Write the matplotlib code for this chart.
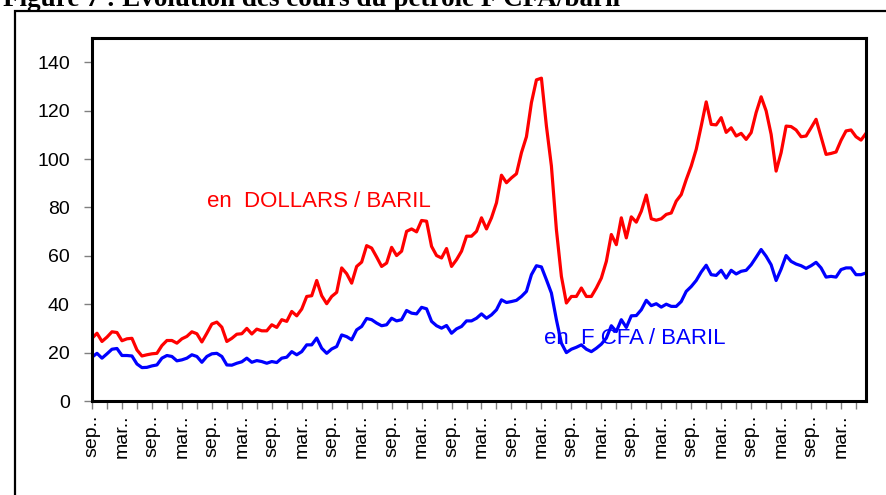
import numpy as np
import matplotlib
matplotlib.use('Agg')
import matplotlib.pyplot as plt
from matplotlib.patches import Rectangle

# monthly oil prices
dollars = [25.9, 28.0, 24.6, 26.4, 28.6, 28.3, 24.9, 25.7, 25.9, 21.1,
           18.6, 19.1, 19.5, 19.7, 22.9, 25.0, 25.0, 23.9, 25.7, 26.7,
           28.6, 27.8, 24.4, 28.0, 31.8, 32.6, 30.5, 24.6, 25.9, 27.6,
           27.8, 30.0, 27.7, 29.7, 29.0, 29.0, 31.5, 30.4, 33.6, 32.9,
           37.0, 35.2, 38.0, 43.2, 43.5, 49.8, 43.5, 40.2, 43.2, 44.9,
           55.0, 52.6, 48.7, 55.6, 57.4, 64.2, 63.2, 59.5, 55.6, 57.0,
           63.5, 60.1, 61.9, 70.1, 71.1, 69.9, 74.6, 74.3, 63.9, 60.1,
           59.1, 63.0, 55.6, 58.4, 61.9, 68.1, 68.1, 70.1, 75.7, 71.1,
           75.7, 81.9, 93.3, 90.2, 92.2, 93.9, 102.6, 109.2, 123.3, 132.7,
           133.4, 113.6, 97.1, 70.8, 51.5, 40.5, 43.2, 43.2, 46.7, 43.2,
           43.2, 46.7, 50.8, 57.7, 68.8, 64.6, 75.7, 67.4, 76.1, 73.9,
           78.4, 85.1, 75.3, 74.7, 75.3, 77.1, 77.7, 82.6, 85.3, 91.5,
           97.1, 104.0, 113.6, 123.6, 114.3, 114.1, 117.1, 111.0, 112.9, 109.5,
           110.6, 108.1, 110.9, 119.2, 125.7, 119.9, 110.2, 95.0, 102.6, 113.6,
           113.4, 112.0, 109.2, 109.5, 112.9, 116.4, 109.2, 101.9, 102.3, 102.9,
           107.7, 111.6, 112.0, 109.2, 107.8, 110.6]

fcfa = [18.1, 19.7, 17.7, 19.5, 21.4, 21.7, 18.8, 18.8, 18.6, 15.3,
        13.8, 13.9, 14.5, 14.9, 17.7, 18.8, 18.4, 16.6, 17.0, 17.7,
        19.1, 18.4, 16.0, 18.4, 19.5, 19.7, 18.4, 14.9, 14.8, 15.6,
        16.2, 17.7, 16.0, 16.7, 16.3, 15.6, 16.3, 15.9, 17.7, 18.1,
        20.4, 19.1, 20.4, 23.2, 23.2, 26.0, 21.8, 19.7, 21.5, 22.5,
        27.3, 26.6, 25.3, 29.4, 30.8, 34.1, 33.6, 32.2, 31.1, 31.5,
        34.2, 33.1, 33.6, 37.4, 36.3, 36.0, 38.7, 38.1, 32.9, 31.1,
        30.1, 31.2, 28.0, 29.8, 30.8, 33.1, 33.1, 34.2, 36.0, 34.2,
        35.6, 37.7, 41.8, 40.7, 41.1, 41.6, 43.2, 45.3, 52.2, 55.9,
        55.4, 50.1, 44.6, 33.6, 23.9, 20.0, 21.4, 22.2, 23.2, 21.4,
        20.4, 21.8, 23.5, 26.0, 31.1, 28.7, 33.6, 30.4, 35.2, 35.3,
        37.7, 41.6, 39.4, 40.2, 38.8, 40.0, 39.1, 39.1, 41.1, 45.3,
        47.3, 49.8, 53.3, 56.1, 52.2, 51.9, 54.0, 50.8, 54.0, 52.5,
        53.6, 54.0, 56.3, 59.4, 62.6, 59.8, 56.3, 49.8, 54.5, 60.1,
        57.7, 56.6, 55.9, 54.8, 55.9, 57.3, 55.0, 51.2, 51.5, 51.2,
        54.3, 55.0, 55.0, 52.2, 52.2, 52.9]

tick_labels = ['sep..', 'mar..'] * 13
y_ticks = [0, 20, 40, 60, 80, 100, 120, 140]

plt.rcParams['font.family'] = ['Liberation Sans', 'DejaVu Sans']

fig = plt.figure(figsize=(8.86, 4.95), dpi=100)
ax = fig.add_axes([92 / 886, 94 / 495, 774 / 886, 363 / 495])

x = np.arange(len(dollars))
ax.plot(x, dollars, color='#ff0000', lw=2.3)
ax.plot(x, fcfa, color='#0000ff', lw=2.3)

ax.set_xlim(0, len(dollars) - 1)
ax.set_ylim(0, 150)
ax.set_yticks(y_ticks)
ax.set_xticks(np.arange(0, len(dollars), 3), minor=True)
ax.set_xticks(np.arange(0, 6 * len(tick_labels), 6))
ax.set_xticklabels(tick_labels, rotation=90, fontsize=14)
ax.tick_params(axis='y', labelsize=14, length=6, width=1, color='#808080', pad=10)
ax.tick_params(axis='x', which='both', length=6, width=1, color='#808080', pad=4)

for s in ax.spines.values():
    s.set_linewidth(2.2)
    s.set_color('black')

# series labels written inside the plot
fig.text(207 / 886, 1 - 207 / 495, 'en  DOLLARS / BARIL', color='#ff0000',
         fontsize=16, va='baseline')
fig.text(544 / 886, 1 - 344 / 495, 'en  F CFA / BARIL', color='#0000ff',
         fontsize=16, va='baseline')

# title, cut by the top of the page as in the source
fig.text(3 / 886, 1 - 6 / 495, 'Figure 7 : Evolution des cours du pétrole F CFA/baril',
         family='Liberation Serif', fontweight='bold', fontsize=19.5, va='baseline')

# outer frame of the figure
fig.patches.append(Rectangle((15 / 886, -0.2), 1.2, 1.2 - 11 / 495,
                             transform=fig.transFigure, fill=False,
                             lw=1.6, edgecolor='black'))

fig.savefig('out.png', dpi=100)
